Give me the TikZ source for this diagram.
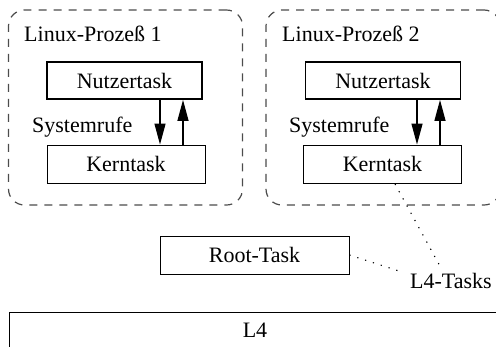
\documentclass[tikz,border=0pt]{standalone}
\usepackage{fontspec}
\setmainfont{Liberation Serif}
\usetikzlibrary{arrows.meta}
\begin{document}
\begin{tikzpicture}[x=1bp,y=-1bp,
  font=\fontsize{22bp}{26bp}\selectfont,
  proc/.style={draw=black!70, line width=1.2bp, dash pattern=on 8bp off 7bp, rounded corners=16bp, minimum width=234bp, minimum height=195bp, inner sep=0pt},
  utask/.style={draw, line width=1.8bp, minimum width=155bp, minimum height=37bp, inner sep=0pt},
  ktask/.style={draw, line width=0.9bp, minimum width=158bp, minimum height=38bp, inner sep=0pt},
  call/.style={line width=1.3bp, -{Triangle[length=21bp,width=11bp]}},
  link/.style={line width=1.1bp, dash pattern=on 1.2bp off 7bp},
  lbl/.style={inner sep=0pt, anchor=base west}]
\useasboundingbox (0,0) rectangle (496,346);
\clip (0,0) rectangle (496,346);
% process boxes
\node[proc] (p1) at (125.5,107.5) {};
\node[proc] (p2) at (383,107.5) {};
\node[lbl] (p1l) at (24,41) {Linux-Prozeß 1};
\node[lbl] (p2l) at (282,41) {Linux-Prozeß 2};
% tasks process 1
\node[utask] (u1) at (124.5,80.5) {Nutzertask};
\node[ktask] (k1) at (126,164) {Kerntask};
\node[lbl] (s1) at (32,132) {Systemrufe};
\draw[call] (u1.south -| 160,0) -- (k1.north -| 160,0);
\draw[call] (k1.north -| 183,0) -- (u1.south -| 183,0);
% tasks process 2
\node[utask] (u2) at (383,80.5) {Nutzertask};
\node[ktask] (k2) at (382.5,164) {Kerntask};
\node[lbl] (s2) at (289,132) {Systemrufe};
\draw[call] (u2.south -| 417,0) -- (k2.north -| 417,0);
\draw[call] (k2.north -| 440,0) -- (u2.south -| 440,0);
% root task and L4-Tasks
\node[draw, line width=0.9bp, minimum width=189bp, minimum height=38bp, inner sep=0pt] (root) at (254.5,255) {Root-Task};
\node[lbl] (l4t) at (410,288) {L4-Tasks};
\coordinate (ks) at (395,184);
\coordinate (t1) at (399,271);
\coordinate (t2) at (441,268);
\draw[link] (root.east) -- (t1);
\draw[link] (ks) -- (t2);
% L4
\node[draw, line width=0.9bp, minimum width=496bp, minimum height=40bp, inner sep=0pt] (l4) at (257,332) {};
\node (l4l) at (255,330) {L4};
\end{tikzpicture}
\end{document}
